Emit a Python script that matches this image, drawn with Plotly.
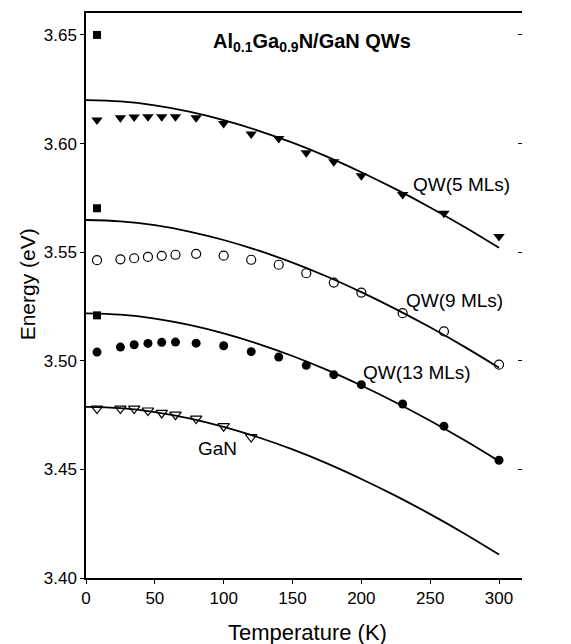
import plotly.graph_objects as go

# ---- data ----
T_data = [8, 25, 35, 45, 55, 65, 80, 100, 120, 140, 160, 180, 200, 230, 260, 300]
E_5ml = [3.6108, 3.6119, 3.6122, 3.6123, 3.6123, 3.6123, 3.6119, 3.6092, 3.6044,
         3.6023, 3.5958, 3.5916, 3.5852, 3.5766, 3.5679, 3.5572]
E_9ml = [3.5463, 3.5467, 3.5472, 3.5478, 3.5483, 3.5488, 3.5492, 3.5484, 3.5465,
         3.5442, 3.5403, 3.5360, 3.5314, 3.5219, 3.5135, 3.4982]
E_13ml = [3.5040, 3.5063, 3.5074, 3.5080, 3.5085, 3.5086, 3.5081, 3.5069, 3.5042,
          3.5017, 3.4979, 3.4936, 3.4890, 3.4801, 3.4699, 3.4542]
T_gan = [8, 25, 35, 45, 55, 65, 80, 100, 120]
E_gan = [3.4780, 3.4780, 3.4780, 3.4771, 3.4760, 3.4752, 3.4734, 3.4699, 3.4649]

T_sq = [8, 8, 8]
E_sq = [3.650, 3.5702, 3.5209]

T_fit = [0, 25, 50, 75, 100, 125, 150, 175, 200, 225, 250, 275, 300]
fit_5ml = [3.6200, 3.6194, 3.6176, 3.6147, 3.6108, 3.6060, 3.6004, 3.5940, 3.5868,
           3.5790, 3.5706, 3.5616, 3.5520]
fit_9ml = [3.5648, 3.5642, 3.5624, 3.5595, 3.5556, 3.5508, 3.5452, 3.5388, 3.5316,
           3.5238, 3.5154, 3.5064, 3.4968]
fit_13ml = [3.5218, 3.5212, 3.5194, 3.5165, 3.5126, 3.5078, 3.5022, 3.4958, 3.4886,
            3.4808, 3.4724, 3.4634, 3.4538]
fit_gan = [3.4788, 3.4782, 3.4764, 3.4735, 3.4696, 3.4648, 3.4592, 3.4528, 3.4456,
           3.4378, 3.4294, 3.4204, 3.4108]

y_ticks = [3.40, 3.45, 3.50, 3.55, 3.60, 3.65]
y_ticktext = ["3.40", "3.45", "3.50", "3.55", "3.60", "3.65"]
x_ticks = [0, 50, 100, 150, 200, 250, 300]

labels = [
    ("QW(5 MLs)", 272.7, 3.5811),
    ("QW(9 MLs)", 267.5, 3.5277),
    ("QW(13 MLs)", 240.5, 3.4946),
    ("GaN", 95.5, 3.4597),
]

X_RANGE = [0, 316.7]
Y_RANGE = [3.40, 3.6601]

FONT = "Arial, Liberation Sans, sans-serif"

fig = go.Figure()

for fit in (fit_5ml, fit_9ml, fit_13ml, fit_gan):
    fig.add_trace(go.Scatter(x=T_fit, y=fit, mode="lines", line=dict(color="black", width=1.8, shape="spline"),
                             showlegend=False, hoverinfo="skip"))

fig.add_trace(go.Scatter(x=T_data, y=E_5ml, mode="markers",
                         marker=dict(symbol="triangle-down", size=10, color="black"), showlegend=False))
fig.add_trace(go.Scatter(x=T_data, y=E_9ml, mode="markers",
                         marker=dict(symbol="circle-open", size=9, color="black", line=dict(width=1.2)),
                         showlegend=False))
fig.add_trace(go.Scatter(x=T_data, y=E_13ml, mode="markers",
                         marker=dict(symbol="circle", size=9, color="black"), showlegend=False))
fig.add_trace(go.Scatter(x=T_gan, y=E_gan, mode="markers",
                         marker=dict(symbol="triangle-down-open", size=10, color="black", line=dict(width=1.2)),
                         showlegend=False))
fig.add_trace(go.Scatter(x=T_sq, y=E_sq, mode="markers",
                         marker=dict(symbol="square", size=8, color="black"), showlegend=False))
# dummy trace for right-side ticks axis
fig.add_trace(go.Scatter(x=[None], y=[None], yaxis="y2", showlegend=False, hoverinfo="skip"))

for text, tx, ty in labels:
    fig.add_annotation(x=tx, y=ty, text=text, showarrow=False, xanchor="center", yanchor="middle",
                       font=dict(family=FONT, size=19, color="black"))

fig.add_annotation(x=164.5, y=3.6465, text="<b>Al<sub>0.1</sub>Ga<sub>0.9</sub>N/GaN QWs</b>",
                   showarrow=False, xanchor="center", yanchor="middle",
                   font=dict(family=FONT, size=20, color="black"))

# axis titles
fig.add_annotation(xref="paper", yref="paper", x=-0.135, y=0.52, text="Energy (eV)", textangle=-90,
                   showarrow=False, xanchor="center", yanchor="middle",
                   font=dict(family=FONT, size=21, color="black"))
fig.add_annotation(xref="paper", yref="paper", x=0.509, y=-0.097, text="Temperature (K)",
                   showarrow=False, xanchor="center", yanchor="middle",
                   font=dict(family=FONT, size=22, color="black"))

fig.update_layout(
    width=571, height=644,
    margin=dict(l=86, r=49, t=11, b=66),
    paper_bgcolor="white", plot_bgcolor="white",
    font=dict(family=FONT, color="black"),
    xaxis=dict(range=X_RANGE, tickvals=x_ticks, ticks="outside", ticklen=4, tickwidth=1, tickcolor="black",
               showline=True, linecolor="black", linewidth=1.5, mirror=True, showgrid=False, zeroline=False,
               tickfont=dict(size=17, family=FONT, color="black")),
    yaxis=dict(range=Y_RANGE, tickvals=y_ticks, ticktext=y_ticktext, ticks="outside", ticklen=4, tickwidth=1,
               tickcolor="black", showline=True, linecolor="black", linewidth=1.5, showgrid=False, zeroline=False,
               tickfont=dict(size=17, family=FONT, color="black")),
    yaxis2=dict(range=Y_RANGE, tickvals=y_ticks, overlaying="y", side="right", ticks="inside", ticklen=4,
                tickwidth=1, tickcolor="black", showticklabels=False, showline=False, showgrid=False,
                zeroline=False),
)

fig.write_html("out.html", config={"displayModeBar": False},
               post_script="document.body.style.margin='0';")
